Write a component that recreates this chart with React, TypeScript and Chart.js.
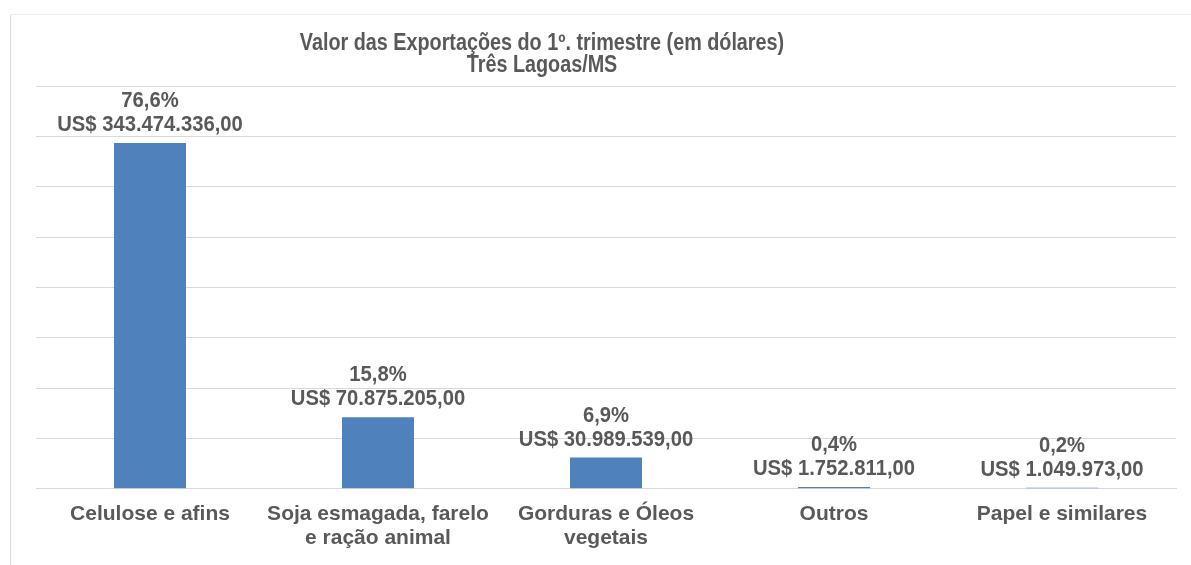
import React, { useEffect, useRef } from "react";
import { Chart, registerables } from "chart.js";

Chart.register(...registerables);

const titleLines = ["Valor das Exportações do 1º. trimestre (em dólares)", "Três Lagoas/MS"];
const categories: (string | string[])[] = [
  "Celulose e afins",
  ["Soja esmagada, farelo", "e ração animal"],
  ["Gorduras e Óleos", "vegetais"],
  "Outros",
  "Papel e similares",
];
const exportValues = [343474336, 70875205, 30989539, 1752811, 1049973];
const sharePercent = [76.6, 15.8, 6.9, 0.4, 0.2];
const yMax = 400000000;
const yStep = 50000000;

const FONT = "'Liberation Sans', Arial, Helvetica, sans-serif";
const TEXT = "#595959";
const GRID = "#d9d9d9";
const BAR = "#4f81bd";

function formatUSD(v: number): string {
  const s = Math.round(v).toString();
  const groups: string[] = [];
  for (let i = s.length; i > 0; i -= 3) groups.unshift(s.substring(Math.max(0, i - 3), i));
  return "US$ " + groups.join(".") + ",00";
}
function formatPct(p: number): string {
  return p.toFixed(1).replace(".", ",") + "%";
}

function drawScaledText(ctx: CanvasRenderingContext2D, text: string, x: number, y: number, size: number, sx: number) {
  ctx.save();
  ctx.translate(x, y);
  ctx.scale(sx, 1);
  ctx.font = `bold ${size}px ${FONT}`;
  ctx.fillStyle = TEXT;
  ctx.textAlign = "center";
  ctx.textBaseline = "alphabetic";
  ctx.fillText(text, 0, 0);
  ctx.restore();
}

const decorPlugin = {
  id: "decor",
  beforeDraw(chart: any) {
    const ctx: CanvasRenderingContext2D = chart.ctx;
    ctx.save();
    ctx.fillStyle = "#ffffff";
    ctx.fillRect(0, 0, chart.width, chart.height);
    ctx.lineWidth = 1;
    ctx.strokeStyle = "#dcdcdc";
    ctx.beginPath();
    ctx.moveTo(10.5, chart.height);
    ctx.lineTo(10.5, 14.5);
    ctx.stroke();
    ctx.strokeStyle = "#ececec";
    ctx.beginPath();
    ctx.moveTo(10.5, 14.5);
    ctx.lineTo(chart.width, 14.5);
    ctx.stroke();
    ctx.restore();
  },
  afterDatasetsDraw(chart: any) {
    const ctx: CanvasRenderingContext2D = chart.ctx;
    const meta = chart.getDatasetMeta(0);
    meta.data.forEach((bar: any, i: number) => {
      const x = bar.x;
      const y = bar.y;
      drawScaledText(ctx, formatUSD(exportValues[i]), x, y - 12, 22, 0.92);
      drawScaledText(ctx, formatPct(sharePercent[i]), x, y - 36, 22, 0.92);
    });
  },
  afterDraw(chart: any) {
    const ctx: CanvasRenderingContext2D = chart.ctx;
    drawScaledText(ctx, titleLines[0], 542, 50, 23, 0.86);
    drawScaledText(ctx, titleLines[1], 542, 72, 23, 0.86);
  },
};

export default function App() {
  const ref = useRef<HTMLCanvasElement | null>(null);
  useEffect(() => {
    if (!ref.current) return;
    const chart = new Chart(ref.current, {
      type: "bar",
      data: {
        labels: categories,
        datasets: [
          {
            data: exportValues,
            backgroundColor: BAR,
            borderWidth: 0,
            categoryPercentage: 1,
            barPercentage: 0.316,
          },
        ],
      },
      options: {
        animation: false,
        responsive: false,
        devicePixelRatio: 1,
        layout: { padding: { left: 36, right: 15, top: 86, bottom: 1 } },
        plugins: {
          legend: { display: false },
          title: { display: false },
          tooltip: { enabled: false },
        },
        scales: {
          x: {
            grid: { display: false, drawTicks: false },
            border: { display: true, color: GRID, width: 1 },
            ticks: {
              color: TEXT,
              padding: 13.5,
              maxRotation: 0,
              autoSkip: false,
              font: { family: FONT, size: 21, weight: "bold", lineHeight: 1.15 },
            },
          },
          y: {
            min: 0,
            max: yMax,
            ticks: { display: false, stepSize: yStep },
            grid: { color: GRID, drawTicks: false, lineWidth: 1 },
            border: { display: false },
          },
        },
      },
      plugins: [decorPlugin],
    });
    return () => chart.destroy();
  }, []);
  return (
    <div style={{ position: "absolute", left: 0, top: 0, width: 1191, height: 565, background: "#fff" }}>
      <canvas ref={ref} width={1191} height={565} style={{ display: "block" }} />
    </div>
  );
}
